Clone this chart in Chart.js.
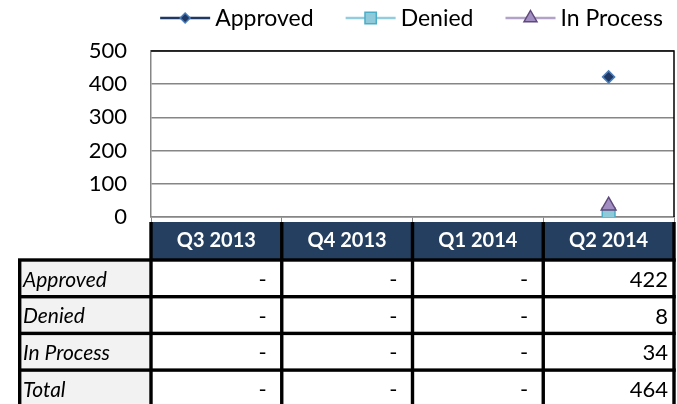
<!DOCTYPE html>
<html><head><meta charset="utf-8">
<script src="https://cdn.jsdelivr.net/npm/chart.js@4/dist/chart.umd.min.js"></script>
<style>html,body{margin:0;padding:0;background:#fff}#wrap{width:677px;height:404px;position:relative}</style>
</head><body><div id="wrap"><canvas id="c" width="677" height="404"></canvas></div>
<script>
const categories = ['Q3 2013', 'Q4 2013', 'Q1 2014', 'Q2 2014'];
const seriesNames = ['Approved', 'Denied', 'In Process'];
const approved = [null, null, null, 422];
const denied = [null, null, null, 8];
const inProcess = [null, null, null, 34];
const totals = [null, null, null, 464];
const rowLabels = ['Approved', 'Denied', 'In Process', 'Total'];
const yMin = 0, yMax = 500, yStep = 100;

const FONT = 'Lato, "Open Sans", "DejaVu Sans", sans-serif';
Chart.defaults.font.family = FONT;
Chart.defaults.color = '#000';

const PLOT_TOP = 51, PLOT_LEFT = 151, AXIS_H = 187;

function drawMarker(ctx, style, x, y, r) {
  ctx.beginPath();
  if (style === 'rectRot') {
    ctx.moveTo(x - r, y); ctx.lineTo(x, y - r); ctx.lineTo(x + r, y); ctx.lineTo(x, y + r);
  } else if (style === 'rect') {
    const s = r * Math.SQRT1_2;
    ctx.rect(x - s, y - s, 2 * s, 2 * s);
  } else if (style === 'triangle') {
    ctx.moveTo(x, y - r); ctx.lineTo(x + 0.866 * r, y + 0.5 * r); ctx.lineTo(x - 0.866 * r, y + 0.5 * r);
  }
  ctx.closePath();
  ctx.fill(); ctx.stroke();
}

const legendPlugin = {
  id: 'customLegend',
  afterDraw(chart) {
    const ctx = chart.ctx;
    const ds = chart.data.datasets;
    const lineLen = 50, gapText = 5, gapItem = 32, cy = 18;
    ctx.save();
    ctx.font = '23px ' + FONT;
    const widths = ds.map(d => lineLen + gapText + ctx.measureText(d.label).width);
    const total = widths.reduce((a, b) => a + b, 0) + gapItem * (ds.length - 1);
    let x = 411.5 - total / 2;
    const legendR = { rectRot: 5, rect: 8, triangle: 7.5 };
    ds.forEach((d, i) => {
      ctx.strokeStyle = d.legendLine; ctx.lineWidth = 2.5;
      ctx.beginPath(); ctx.moveTo(x, cy); ctx.lineTo(x + lineLen, cy); ctx.stroke();
      ctx.fillStyle = d.pointBackgroundColor; ctx.strokeStyle = d.pointBorderColor; ctx.lineWidth = 1.5;
      drawMarker(ctx, d.pointStyle, x + lineLen / 2, cy, legendR[d.pointStyle]);
      ctx.fillStyle = '#000'; ctx.textAlign = 'left'; ctx.textBaseline = 'middle';
      ctx.fillText(d.label, x + lineLen + gapText, cy + 1);
      x += widths[i] + gapItem;
    });
    ctx.restore();
  }
};

const borderPlugin = {
  id: 'plotBorder',
  beforeDatasetsDraw(chart) {
    const { ctx, chartArea: a } = chart;
    ctx.save();
    ctx.strokeStyle = '#000'; ctx.lineWidth = 1.5;
    ctx.beginPath();
    ctx.moveTo(a.left, a.top); ctx.lineTo(a.right, a.top); ctx.lineTo(a.right, a.bottom);
    ctx.stroke();
    ctx.restore();
  }
};

const tablePlugin = {
  id: 'dataTable',
  afterDraw(chart) {
    const ctx = chart.ctx, x = chart.scales.x;
    const n = categories.length;
    const cw = (x.right - x.left) / n;
    const headTop = 222, headBot = 260, rowH = 36.7, bottom = 404;
    const labelLeft = 18;
    const rows = [approved, denied, inProcess, totals];
    ctx.save();
    ctx.fillStyle = '#243F60';
    ctx.fillRect(x.left, headTop, x.right - x.left, headBot - headTop);
    ctx.fillStyle = '#F2F2F2';
    ctx.fillRect(labelLeft, headBot, x.left - labelLeft, bottom - headBot);
    ctx.fillStyle = '#000';
    const lw = 3.4;
    for (let r = 0; r <= rows.length; r++) {
      const yy = headBot + r * rowH;
      ctx.fillRect(labelLeft, yy - lw / 2, x.right + lw / 2 - labelLeft, lw);
    }
    for (let i = 0; i <= n; i++) {
      const xx = x.left + i * cw;
      ctx.fillRect(xx - lw / 2, headTop, lw, bottom - headTop);
    }
    ctx.fillRect(labelLeft, headBot, lw, bottom - headBot);
    ctx.fillStyle = '#fff'; ctx.font = 'bold 20px ' + FONT;
    ctx.textAlign = 'center'; ctx.textBaseline = 'middle';
    categories.forEach((c, i) => ctx.fillText(c, x.left + (i + 0.5) * cw, 241));
    rows.forEach((vals, r) => {
      const cy = headBot + (r + 0.5) * rowH + 1.5;
      ctx.fillStyle = '#000';
      ctx.font = 'italic 21px ' + FONT; ctx.textAlign = 'left';
      ctx.fillText(rowLabels[r], 23, cy);
      ctx.font = '22px ' + FONT; ctx.textAlign = 'right';
      vals.forEach((v, i) => {
        const right = x.left + (i + 1) * cw;
        if (v === null) ctx.fillText('-', right - 15, cy);
        else ctx.fillText(String(v), right - 6, cy);
      });
    });
    ctx.restore();
  }
};

new Chart(document.getElementById('c'), {
  type: 'line',
  data: {
    labels: categories,
    datasets: [
      { label: seriesNames[0], data: approved, order: 2, borderColor: '#1F3864', legendLine: '#1F3864', borderWidth: 2.5,
        pointStyle: 'rectRot', pointRadius: 6, pointBackgroundColor: '#1F3864', pointBorderColor: '#4A7EBB', pointBorderWidth: 1.5 },
      { label: seriesNames[1], data: denied, order: 1, borderColor: '#93CDDD', legendLine: '#93CDDD', borderWidth: 2.5,
        pointStyle: 'rect', pointRadius: 9, pointBackgroundColor: '#8FCADB', pointBorderColor: '#4BACC6', pointBorderWidth: 1.5 },
      { label: seriesNames[2], data: inProcess, order: 0, borderColor: '#B3A2C7', legendLine: '#B3A2C7', borderWidth: 2.5,
        pointStyle: 'triangle', pointRadius: 8.5, pointBackgroundColor: '#A38EC3', pointBorderColor: '#5F497A', pointBorderWidth: 1.5 }
    ]
  },
  options: {
    responsive: false,
    animation: false,
    layout: { autoPadding: false, padding: { top: PLOT_TOP, left: 0, right: 3, bottom: 0 } },
    plugins: { legend: { display: false }, tooltip: { enabled: false } },
    scales: {
      x: {
        offset: true,
        grid: { offset: true, drawOnChartArea: false, drawTicks: true, tickLength: 5, color: '#868686' },
        border: { display: true, color: '#868686', width: 1.5 },
        ticks: { display: false },
        afterFit(s) { s.height = AXIS_H; s.paddingLeft = 0; s.paddingRight = 0; }
      },
      y: {
        min: yMin, max: yMax,
        ticks: { stepSize: yStep, padding: 24, font: { size: 22 }, color: '#000' },
        grid: { color: '#868686', drawTicks: false, lineWidth: 1.5 },
        border: { display: true, color: '#868686', width: 1.5 },
        afterFit(s) { s.width = PLOT_LEFT; s.paddingTop = 0; s.paddingBottom = 0; s.paddingLeft = 0; s.paddingRight = 0; }
      }
    }
  },
  plugins: [borderPlugin, tablePlugin, legendPlugin]
});
</script></body></html>
